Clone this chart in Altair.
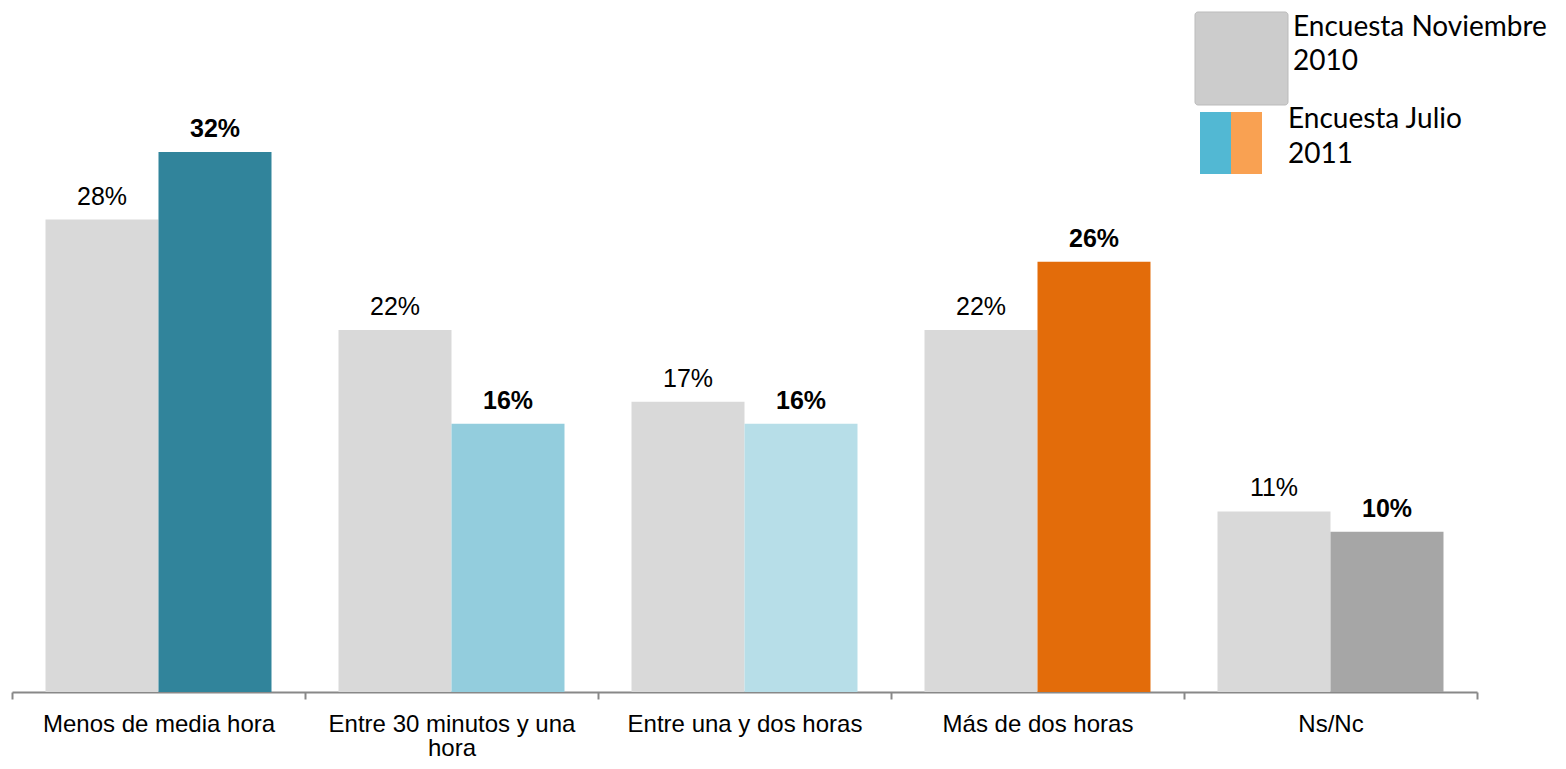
import altair as alt
import pandas as pd

categories = ["Menos de media hora", "Entre 30 minutos y una hora", "Entre una y dos horas",
              "Más de dos horas", "Ns/Nc"]
surveys = ["Encuesta Noviembre 2010", "Encuesta Julio 2011"]
values_2010 = [28.0, 21.45, 17.2, 21.45, 10.7]
values_2011 = [32.0, 15.9, 15.9, 25.5, 9.5]
labels_2010 = ["28%", "22%", "17%", "22%", "11%"]
labels_2011 = ["32%", "16%", "16%", "26%", "10%"]
colors_2010 = ["#D9D9D9"] * 5
colors_2011 = ["#31849B", "#93CDDD", "#B7DEE8", "#E36C0A", "#A6A6A6"]

rows = []
for i, c in enumerate(categories):
    rows.append(dict(cat=c, survey=surveys[0], value=values_2010[i], label=labels_2010[i],
                     color=colors_2010[i], bold=False))
    rows.append(dict(cat=c, survey=surveys[1], value=values_2011[i], label=labels_2011[i],
                     color=colors_2011[i], bold=True))
df = pd.DataFrame(rows)

W, H = 1465, 684
YMAX = H / 16.875

x = alt.X("cat:N", sort=categories, title=None,
          scale=alt.Scale(paddingInner=0, paddingOuter=0),
          axis=alt.Axis(tickBand="extent", labelAngle=0, labelFontSize=24,
                        labelFont="Liberation Sans", labelColor="#000000",
                        labelPadding=13, tickSize=7, tickColor="#888888",
                        domainColor="#888888", domainWidth=2, tickWidth=2,
                        labelLineHeight=24, labelLimit=0,
                        labelExpr="datum.label == 'Entre 30 minutos y una hora' ? ['Entre 30 minutos y una', 'hora'] : datum.label"))
xo = alt.XOffset("survey:N", sort=surveys,
                 scale=alt.Scale(paddingInner=0, paddingOuter=0.2965))
y = alt.Y("value:Q", scale=alt.Scale(domain=[0, YMAX], nice=False, zero=True), axis=None)

base = alt.Chart(df)
bars = base.mark_bar().encode(x=x, xOffset=xo, y=y,
                              color=alt.Color("color:N", scale=None, legend=None))
txt_norm = base.transform_filter("!datum.bold").mark_text(
    baseline="alphabetic", dy=-15, fontSize=25, font="Liberation Sans", color="#000000"
).encode(x=x, xOffset=xo, y=y, text="label:N")
txt_bold = base.transform_filter("datum.bold").mark_text(
    baseline="alphabetic", dy=-15, fontSize=25, font="Liberation Sans", fontWeight="bold",
    color="#000000"
).encode(x=x, xOffset=xo, y=y, text="label:N")

one = alt.Chart(pd.DataFrame({"a": [0]}))
ox, oy = 12, 8  # plot origin in page pixels
leg_gray = one.mark_rect(color="#CCCCCC", stroke="#BBBBBB", strokeWidth=1, cornerRadius=3).encode(
    x=alt.value(1195 - ox), x2=alt.value(1288 - ox), y=alt.value(12 - oy), y2=alt.value(105 - oy))
leg_blue = one.mark_rect(color="#52B8D3").encode(
    x=alt.value(1200 - ox), x2=alt.value(1231 - ox), y=alt.value(112 - oy), y2=alt.value(174 - oy))
leg_orange = one.mark_rect(color="#F9A152").encode(
    x=alt.value(1231 - ox), x2=alt.value(1262 - ox), y=alt.value(112 - oy), y2=alt.value(174 - oy))

def leg_text(t, px, py):
    return one.mark_text(text=t, align="left", baseline="middle", fontSize=28, font="Lato",
                         color="#000000").encode(x=alt.value(px - ox), y=alt.value(py - oy))

legend = [leg_gray, leg_blue, leg_orange,
          leg_text("Encuesta Noviembre", 1293, 28), leg_text("2010", 1293, 62),
          leg_text("Encuesta Julio", 1288, 120), leg_text("2011", 1288, 155)]

chart = alt.layer(bars, txt_norm, txt_bold, *legend).properties(
    width=W, height=H,
    autosize=alt.AutoSizeParams(type="none"),
    padding={"left": 4, "top": 0, "right": 81, "bottom": 69},
).configure_view(stroke=None).configure_axis(grid=False)

chart.save("out.html", embed_options={"renderer": "svg", "actions": False})
